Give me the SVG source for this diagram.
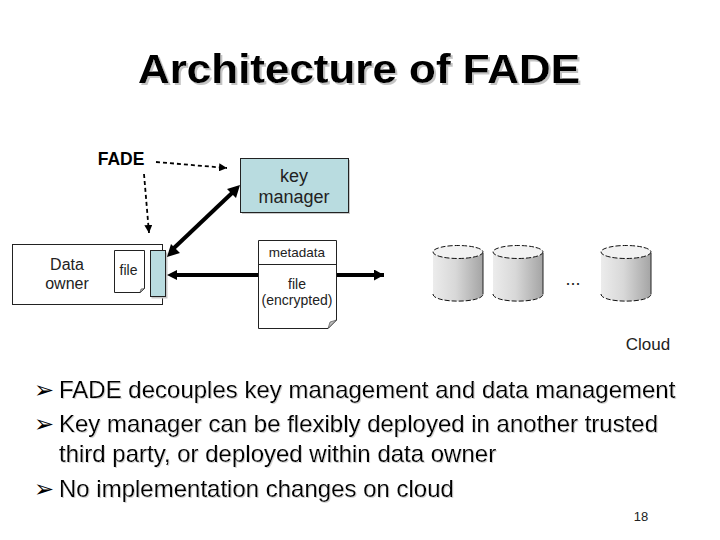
<svg xmlns="http://www.w3.org/2000/svg" width="720" height="540" viewBox="0 0 720 540">
<style>
text{font-family:"Liberation Sans",Arial,sans-serif;fill:#000}
.t{font-size:40px;font-weight:bold;filter:url(#tshadow)}
.l{font-size:18px;text-anchor:middle;fill:#222}
.o{font-size:16px;text-anchor:middle;fill:#222}
.s{font-size:14px;text-anchor:middle;fill:#222}
.b{font-size:24px;filter:url(#bshadow)}
.g{font-family:"DejaVu Sans",sans-serif;font-size:24px}
.box{fill:#fff;stroke:#222;stroke-width:1}
.teal{fill:#b9dce0;stroke:#222;stroke-width:1}
.shadow{fill:#c8c8c8}
.cyl{fill:url(#cg);stroke:none}
.top{fill:#f2f2f2;stroke:#111;stroke-width:1;stroke-dasharray:5 2}
.edge{fill:none;stroke:#111;stroke-width:1;stroke-dasharray:5 2}
.side{fill:none;stroke:#222;stroke-width:1}
.dash{fill:none;stroke:#000;stroke-width:1.800;stroke-dasharray:4 3}
.thick{fill:none;stroke:#000;stroke-width:4}
</style>
<defs>
<linearGradient id="cg" x1="0" x2="1" y1="0" y2="0"><stop offset="0" stop-color="#ececec"/><stop offset="0.45" stop-color="#d8d8d8"/><stop offset="1" stop-color="#a4a4a4"/></linearGradient>
<filter id="tshadow" x="-5%" y="-20%" width="110%" height="140%"><feDropShadow dx="2" dy="2" stdDeviation="0.300" flood-color="#c4c4c4"/></filter>
<filter id="bshadow" x="-5%" y="-20%" width="110%" height="140%"><feDropShadow dx="1" dy="1" stdDeviation="0.300" flood-color="#d4d4d4"/></filter>
<marker id="ds" markerUnits="userSpaceOnUse" markerWidth="9" markerHeight="8" refX="8" refY="4" orient="auto"><path d="M0 0L8 4L0 8z" fill="#000"/></marker>
<marker id="te" markerUnits="userSpaceOnUse" markerWidth="11" markerHeight="11" refX="10" refY="5.500" orient="auto"><path d="M0 0L10 5.500L0 11z" fill="#000"/></marker>
</defs>
<g id="title">
<text class="t" x="138" y="83" textLength="442" lengthAdjust="spacingAndGlyphs">Architecture of FADE</text>
</g>
<g id="fade"><text x="121" y="165" style="font-size:17.500px;font-weight:bold;text-anchor:middle">FADE</text></g>
<g id="key-manager">
<rect class="shadow" x="242" y="160" width="108" height="54"/>
<rect class="teal" x="240.500" y="158.500" width="108" height="54"/>
<text class="l" x="294" y="182">key</text>
<text class="l" x="294" y="203">manager</text>
</g>
<g id="data-owner">
<rect class="box" x="12.500" y="244.500" width="150" height="60"/>
<text class="o" x="67" y="270">Data</text>
<text class="o" x="67" y="289">owner</text>
</g>
<g id="file">
<path class="box" d="M114.500 250.500H144.500V288.500L140 292.500H114.500z"/>
<path d="M140 292.500L141 289L144.500 288.500z" fill="#bbb" stroke="#222" stroke-width=".5"/>
<text class="s" x="128.500" y="275">file</text>
</g>
<g id="client-key">
<rect class="shadow" x="151.500" y="252.500" width="16" height="46"/>
<rect class="teal" x="150.500" y="250.500" width="15" height="46"/>
</g>
<g id="connectors">
<path class="dash" d="M156 162L227 168" marker-end="url(#ds)"/>
<path class="dash" d="M144 174L149 233" marker-end="url(#ds)"/>
<path class="thick" d="M174 248L232 193"/>
<path d="M167 257L171 244L180 253z M240 185L227 189L236 198z" fill="#000"/>
<path class="thick" d="M176 275H384" marker-end="url(#te)"/>
<path d="M167 275L177 270V280z" fill="#000"/>
</g>
<g id="encrypted-file">
<path class="box" d="M258.500 240.500H336.500V320L328 328.500H258.500z"/>
<path d="M328 328.500L330 322L336.500 320z" fill="#bbb" stroke="#222" stroke-width=".5"/>
<path d="M258.500 264.500H336.500" stroke="#222" fill="none"/>
<text class="s" style="font-size:13.500px" x="297" y="257">metadata</text>
<text class="s" x="297" y="289">file</text>
<text class="s" x="297" y="305">(encrypted)</text>
</g>
<g id="disk-1">
<path class="cyl" d="M433 253V294C433 303.500 483 303.500 483 294V253z"/>
<path class="edge" d="M433 294C433 303.500 483 303.500 483 294"/>
<path class="side" d="M483 253V294"/>
<ellipse class="top" cx="458" cy="252" rx="25" ry="6.500"/>
</g>
<g id="disk-2">
<path class="cyl" d="M493 253V294C493 303.500 543 303.500 543 294V253z"/>
<path class="edge" d="M493 294C493 303.500 543 303.500 543 294"/>
<path class="side" d="M543 253V294"/>
<ellipse class="top" cx="518" cy="252" rx="25" ry="6.500"/>
</g>
<text x="573" y="285" style="font-size:18px;text-anchor:middle;fill:#222">...</text>
<g id="disk-3">
<path class="cyl" d="M601 253V294C601 303.500 651 303.500 651 294V253z"/>
<path class="edge" d="M601 294C601 303.500 651 303.500 651 294"/>
<path class="side" d="M651 253V294"/>
<ellipse class="top" cx="626" cy="252" rx="25" ry="6.500"/>
</g>
<g id="cloud"><text x="648" y="350" class="l" style="font-size:17px">Cloud</text></g>
<g id="bullets">
<text class="g" x="34" y="398">➢</text>
<text class="g" x="34" y="432">➢</text>
<text class="g" x="34" y="497">➢</text>
<text class="b" x="59" y="398">FADE decouples key management and data management</text>
<text class="b" x="59" y="432">Key manager can be flexibly deployed in another trusted</text>
<text class="b" x="59" y="462">third party, or deployed within data owner</text>
<text class="b" x="59" y="497">No implementation changes on cloud</text>
</g>
<text x="641" y="521" style="font-size:13px;text-anchor:middle;fill:#222">18</text>
</svg>
